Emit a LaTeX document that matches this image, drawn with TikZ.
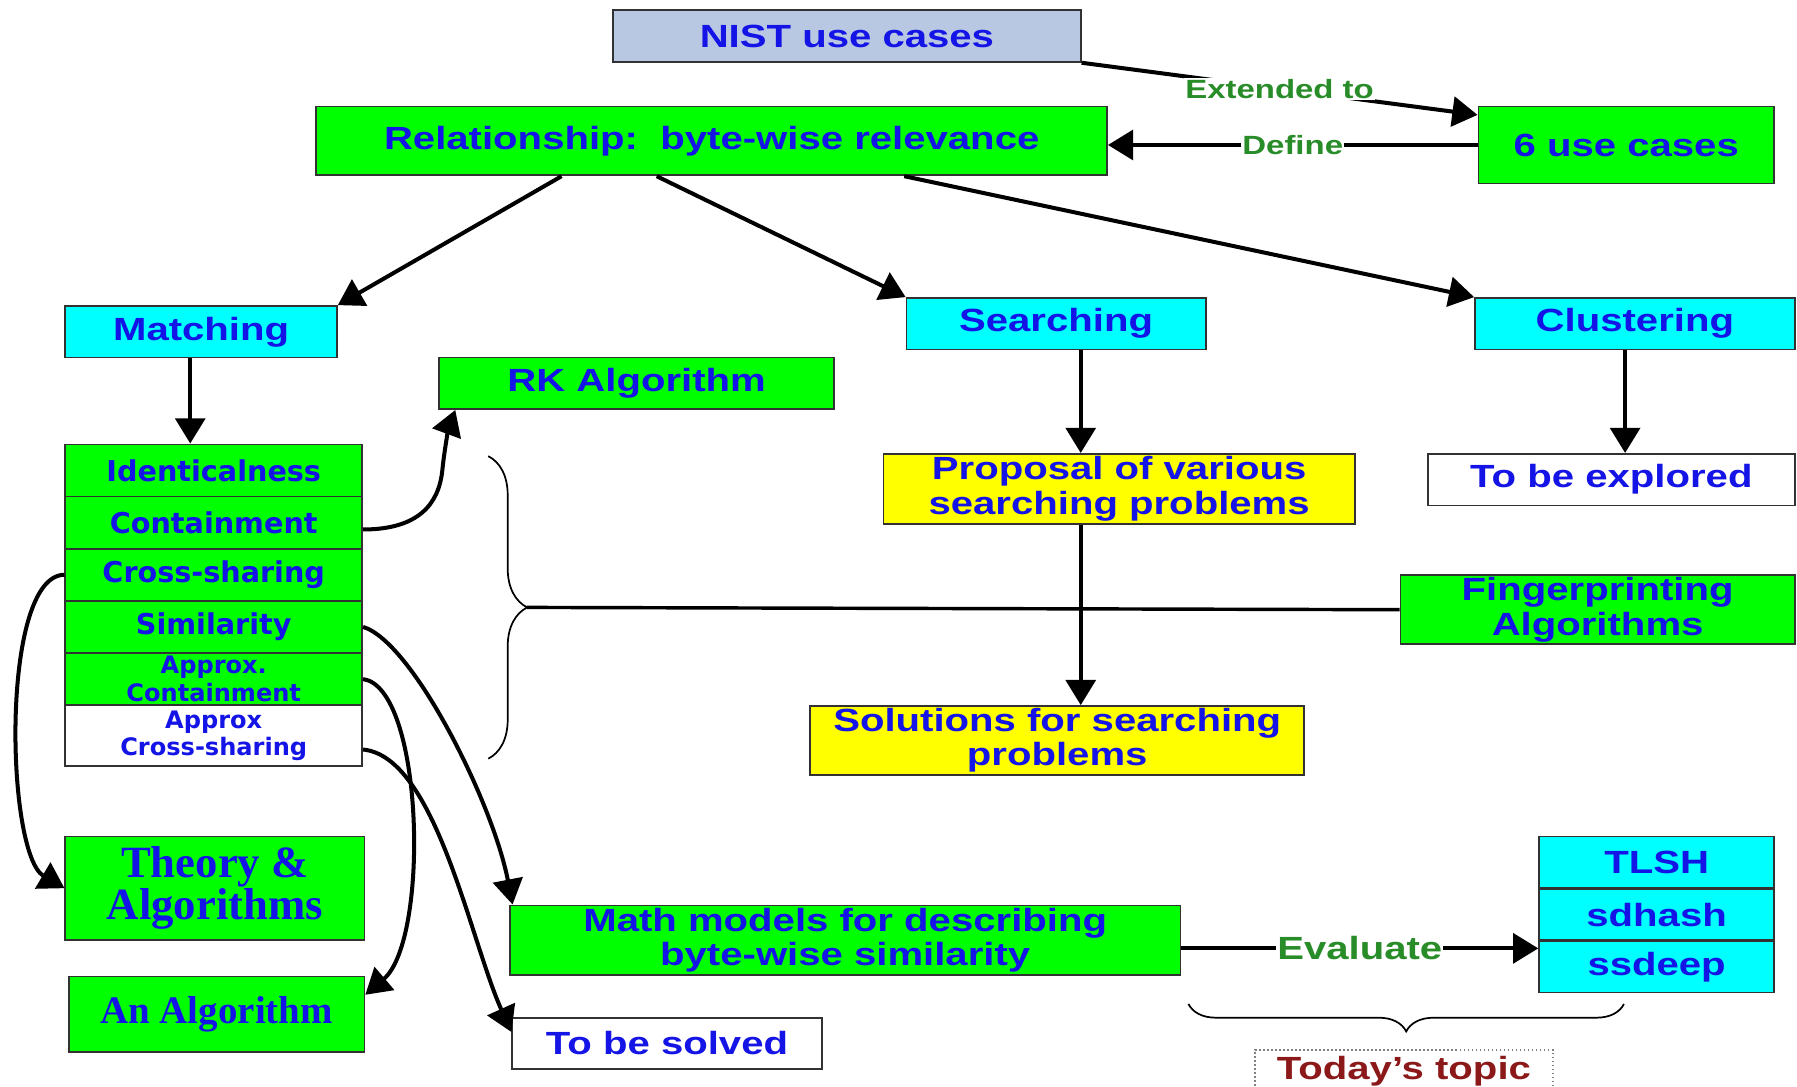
\documentclass[tikz,border=0pt]{standalone}
\usepackage{fontspec}
\setmainfont{Liberation Sans}
\newfontfamily\wideface[FakeStretch=1.25]{Liberation Sans}
\newfontfamily\stackface{DejaVu Sans}
\newfontfamily\serifface{Liberation Serif}
\usetikzlibrary{positioning,arrows.meta,decorations.pathreplacing}

\definecolor{boxgreen}{RGB}{0,255,0}
\definecolor{boxcyan}{RGB}{0,255,255}
\definecolor{boxyellow}{RGB}{255,255,0}
\definecolor{nistblue}{RGB}{184,200,226}
\definecolor{txtblue}{RGB}{20,20,230}
\definecolor{lblgreen}{RGB}{40,140,40}
\definecolor{topicred}{RGB}{140,25,25}
\definecolor{edgegray}{RGB}{50,50,50}

\tikzset{
  box/.style={draw=edgegray, line width=1.5pt, inner sep=0pt, align=center, text=txtblue,
    font=\wideface\bfseries\fontsize{28}{30}\selectfont},
  gbox/.style={box, fill=boxgreen},
  cbox/.style={box, fill=boxcyan},
  ybox/.style={box, fill=boxyellow},
  wbox/.style={box, fill=white},
  row/.style={gbox, minimum width=259pt, minimum height=45.5pt,
    font=\stackface\bfseries\fontsize{25}{27}\selectfont},
  smallrow/.style={row, font=\stackface\bfseries\fontsize{21}{24}\selectfont},
  lbl/.style={fill=white, inner sep=1pt, text=lblgreen,
    font=\wideface\bfseries\fontsize{23}{25}\selectfont},
}

\begin{document}
\begin{tikzpicture}[x=1pt,y=-1pt,line width=3.5pt,>={Triangle[length=22pt,width=26pt]},
  node distance=45.5pt,on grid]
	\useasboundingbox (0,0) rectangle (1568,948);

	% top level
	\node[box,fill=nistblue,minimum width=408pt,minimum height=45pt] (nist) at (739,31.5) {NIST use cases};
	\node[gbox,minimum width=690pt,minimum height=60pt] (rel) at (621,123) {Relationship:\ \ byte-wise relevance};
	\node[gbox,minimum width=258pt,minimum height=67pt] (six) at (1419,126.5) {6 use cases};
	\node[cbox,minimum width=237pt,minimum height=45pt] (match) at (175.5,289.5) {Matching};
	\node[cbox,minimum width=261pt,minimum height=45pt] (search) at (921.5,282.5) {Searching};
	\node[cbox,minimum width=279pt,minimum height=45pt] (clust) at (1426.5,282.5) {Clustering};
	\node[gbox,minimum width=345pt,minimum height=45pt] (rk) at (555.5,334.5) {RK Algorithm};

	% matching stack
	\node[row] (ident) at (186.5,410.5) {Identicalness};
	\node[row] (cont) [below=of ident] {Containment};
	\node[row] (cross) [below=of cont] {Cross-sharing};
	\node[row] (sim) [below=of cross] {Similarity};
	\node[smallrow] (acont) [below=of sim] {Approx.\\Containment};
	\node[smallrow,fill=white,minimum height=53pt] (across) [below=49.5pt of acont] {Approx\\Cross-sharing};

	\node[ybox,minimum width=411pt,minimum height=61pt] (prop) at (976.5,426.5) {Proposal of various\\searching problems};
	\node[wbox,minimum width=320pt,minimum height=45pt] (explore) at (1406,418.5) {To be explored};
	\node[gbox,minimum width=344pt,minimum height=60pt] (finger) at (1394,532) {Fingerprinting\\Algorithms};
	\node[ybox,minimum width=431pt,minimum height=60pt] (sol) at (922.5,646) {Solutions for searching\\problems};

	\node[gbox,minimum width=261pt,minimum height=90pt,font=\serifface\bfseries\fontsize{39}{35}\selectfont] (theory) at (187.5,775) {Theory \&\\Algorithms};
	\node[gbox,minimum width=258pt,minimum height=66pt,font=\serifface\bfseries\fontsize{34}{36}\selectfont] (analg) at (189,885) {An Algorithm};
	\node[gbox,minimum width=585pt,minimum height=61pt] (math) at (737.5,820.5) {Math models for describing\\byte-wise similarity};
	\node[wbox,minimum width=270pt,minimum height=45pt] (solved) at (582,910.5) {To be solved};

	% hash tools
	\node[cbox,minimum width=205pt,minimum height=45pt] (tlsh) at (1445.5,752.5) {TLSH};
	\node[cbox,minimum width=205pt,minimum height=45pt] (sdhash) [below=of tlsh] {sdhash};
	\node[cbox,minimum width=205pt,minimum height=45pt] (ssdeep) [below=of sdhash] {ssdeep};
	\node[draw=gray,dotted,line width=1.5pt,inner sep=0pt,minimum width=260pt,minimum height=38pt,
	  text=topicred,font=\wideface\bfseries\fontsize{28}{30}\selectfont] (topic) at (1225,935) {Today’s topic};

	% braces
	\draw[line width=1.5pt,decorate,decoration={brace,amplitude=34pt}] (426,398) -- (426,662);
	\coordinate (bracetip) at (460,530);
	\draw[line width=3pt] (bracetip) -- (finger.west);
	\draw[line width=1.5pt,decorate,decoration={brace,amplitude=24pt}] (1417,876) -- (1037,876);

	% connectors
	\draw[->] (nist.south east) -- node[lbl] {Extended to} ([yshift=-8pt]six.north west);
	\draw[->] (six.west) -- node[lbl] {Define} (six.west -| rel.east);
	\draw[->] ([xshift=-131pt]rel.south) -- (match.north east);
	\draw[->] ([xshift=-48pt]rel.south) -- (search.north west);
	\draw[->] ([xshift=168pt]rel.south) -- (clust.north west);
	\draw[->] ([xshift=-9.5pt]match.south) -- ([xshift=-20.5pt]ident.north);
	\draw[->] ([xshift=21.5pt]search.south) -- ([xshift=-33.5pt]prop.north);
	\draw[->] ([xshift=-33.5pt]prop.south) -- ([xshift=20.5pt]sol.north);
	\draw[->] ([xshift=-8.5pt]clust.south) -- ([xshift=12pt]explore.north);
	\draw[->] ([yshift=-7pt]math.east) -- node[lbl,font=\wideface\bfseries\fontsize{28}{30}\selectfont] {Evaluate} ([yshift=-7pt]math.east -| sdhash.west);

	\draw[->] ([yshift=-6pt]cont.east) .. controls (365,462) and (383,440) .. (386,410)
	  .. controls (388,390) and (392,372) .. ([xshift=15pt]rk.south west);
	\draw[->] (cross.west) .. controls (0,502) and (5,745) .. (theory.west);
	\draw[->] (sim.east) .. controls (360,560) and (430,700) .. ([xshift=3pt]math.north west);
	\draw[->] (acont.east) .. controls (370,600) and (375,820) .. ([yshift=17pt]analg.east);
	\draw[->] ([yshift=-12pt]across.east) .. controls (380,660) and (410,820) .. ([yshift=10pt]solved.west);
\end{tikzpicture}
\end{document}
